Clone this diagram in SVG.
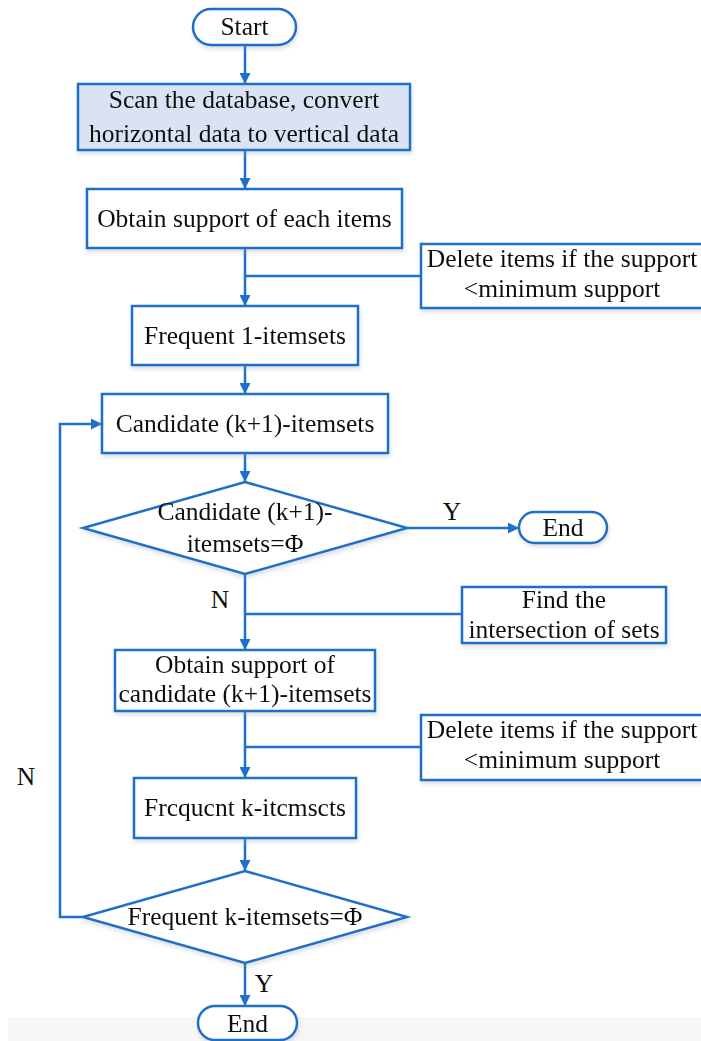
<svg xmlns="http://www.w3.org/2000/svg" width="701" height="1041" viewBox="0 0 701 1041">
  <defs>
    <style>
      .box { fill: #ffffff; stroke: #1f70c8; stroke-width: 2.5; }
      .hl { fill: #dae3f3; }
      .wire { fill: none; stroke: #1f70c8; stroke-width: 2.5; }
      .txt { font-family: "Liberation Serif", "Times New Roman", serif; font-size: 25.5px; fill: #111111; text-anchor: middle; }
    </style>
    <marker id="arrow" viewBox="0 0 10 10" refX="10" refY="5" markerWidth="4.4" markerHeight="4.4" markerUnits="strokeWidth" orient="auto">
      <path d="M0,0 L10,5 L0,10 Z" fill="#1f70c8"/>
    </marker>
    <filter id="shadow" x="-10%" y="-10%" width="130%" height="140%">
      <feDropShadow dx="1" dy="3" stdDeviation="2" flood-color="#8a96a8" flood-opacity="0.3"/>
    </filter>
  </defs>

  <rect width="701" height="1041" fill="#ffffff"/>
  <rect x="8" y="1017" width="693" height="24" fill="#f7f7f8"/>

  <!-- connectors -->
  <g id="connectors">
    <line class="wire" x1="245" y1="45" x2="245" y2="84" marker-end="url(#arrow)"/>
    <line class="wire" x1="245" y1="150" x2="245" y2="189" marker-end="url(#arrow)"/>
    <line class="wire" x1="245" y1="248" x2="245" y2="306" marker-end="url(#arrow)"/>
    <line class="wire" x1="421" y1="276" x2="245" y2="276"/>
    <line class="wire" x1="245" y1="365" x2="245" y2="394" marker-end="url(#arrow)"/>
    <line class="wire" x1="245" y1="453" x2="245" y2="482" marker-end="url(#arrow)"/>
    <line class="wire" x1="407" y1="528" x2="519" y2="528" marker-end="url(#arrow)"/>
    <line class="wire" x1="245" y1="574" x2="245" y2="650" marker-end="url(#arrow)"/>
    <line class="wire" x1="462" y1="614" x2="245" y2="614"/>
    <line class="wire" x1="245" y1="711" x2="245" y2="778" marker-end="url(#arrow)"/>
    <line class="wire" x1="421" y1="747" x2="245" y2="747"/>
    <line class="wire" x1="245" y1="838" x2="245" y2="871" marker-end="url(#arrow)"/>
    <polyline class="wire" points="83,917 60,917 60,424 102,424" marker-end="url(#arrow)"/>
    <line class="wire" x1="245" y1="963" x2="245" y2="1006" marker-end="url(#arrow)"/>
    <text class="txt" x="452" y="520">Y</text>
    <text class="txt" x="220" y="608">N</text>
    <text class="txt" x="264" y="992">Y</text>
    <text class="txt" x="26" y="785">N</text>
  </g>

  <g id="start" filter="url(#shadow)">
    <rect class="box" x="193" y="9" width="103" height="36" rx="18"/>
    <text class="txt" x="244.5" y="35">Start</text>
  </g>

  <g id="scan" filter="url(#shadow)">
    <rect class="box hl" x="78" y="84" width="332" height="66"/>
    <text class="txt" x="244" y="108">Scan the database, convert</text>
    <text class="txt" x="244" y="142">horizontal data to vertical data</text>
  </g>

  <g id="support-items" filter="url(#shadow)">
    <rect class="box" x="87" y="189" width="315" height="59"/>
    <text class="txt" x="244.5" y="227">Obtain support of each items</text>
  </g>

  <g id="prune-1" filter="url(#shadow)">
    <rect class="box" x="421" y="244" width="284" height="64"/>
    <text class="txt" x="562" y="267">Delete items if the support</text>
    <text class="txt" x="562" y="297">&lt;minimum support</text>
  </g>

  <g id="frequent-1" filter="url(#shadow)">
    <rect class="box" x="132" y="306" width="226" height="59"/>
    <text class="txt" x="245" y="344">Frequent 1-itemsets</text>
  </g>

  <g id="candidate" filter="url(#shadow)">
    <rect class="box" x="102" y="394" width="286" height="59"/>
    <text class="txt" x="245" y="432">Candidate (k+1)-itemsets</text>
  </g>

  <g id="candidate-empty" filter="url(#shadow)">
    <polygon class="box" points="245,482 407,528 245,574 83,528"/>
    <text class="txt" x="245" y="520">Candidate (k+1)-</text>
    <text class="txt" x="245" y="552">itemsets=Φ</text>
  </g>

  <g id="end-1" filter="url(#shadow)">
    <rect class="box" x="519" y="512" width="88" height="31" rx="15.5"/>
    <text class="txt" x="563" y="536">End</text>
  </g>

  <g id="intersect" filter="url(#shadow)">
    <rect class="box" x="462" y="587" width="204" height="56"/>
    <text class="txt" x="564" y="608">Find the</text>
    <text class="txt" x="564" y="638">intersection of sets</text>
  </g>

  <g id="support-candidate" filter="url(#shadow)">
    <rect class="box" x="115" y="650" width="260" height="61"/>
    <text class="txt" x="245" y="673">Obtain support of</text>
    <text class="txt" x="245" y="702">candidate (k+1)-itemsets</text>
  </g>

  <g id="prune-k" filter="url(#shadow)">
    <rect class="box" x="421" y="715" width="284" height="65"/>
    <text class="txt" x="562" y="738">Delete items if the support</text>
    <text class="txt" x="562" y="768">&lt;minimum support</text>
  </g>

  <g id="frequent-k" filter="url(#shadow)">
    <rect class="box" x="134" y="778" width="222" height="60"/>
    <text class="txt" x="245" y="816">Frcqucnt k-itcmscts</text>
  </g>

  <g id="frequent-empty" filter="url(#shadow)">
    <polygon class="box" points="245,871 407,917 245,963 83,917"/>
    <text class="txt" x="245" y="925">Frequent k-itemsets=Φ</text>
  </g>

  <g id="end-2" filter="url(#shadow)">
    <rect class="box" x="198" y="1006" width="99" height="34" rx="17"/>
    <text class="txt" x="247.5" y="1032">End</text>
  </g>
</svg>
